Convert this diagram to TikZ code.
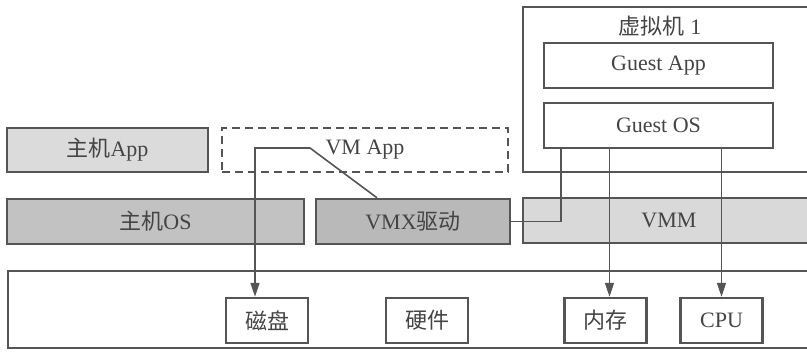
\documentclass[tikz,border=0pt]{standalone}
\usepackage{fontspec}
\setmainfont{Liberation Serif}
\newfontfamily\cjk{Noto Sans CJK SC}
\usetikzlibrary{arrows.meta}
\newcommand{\zh}[1]{{\cjk #1}}
\definecolor{edge}{HTML}{555555}
\definecolor{ink}{HTML}{444444}

\begin{document}
\begin{tikzpicture}[x=1pt,y=-1pt,
    font=\fontsize{22}{26}\selectfont,
    layer/.style={draw=edge,line width=2.4pt,rectangle,text=ink,minimum height=44pt},
    part/.style={draw=edge,line width=2.4pt,rectangle,text=ink,minimum width=82pt,minimum height=45pt},
    link/.style={draw=edge,line width=1.6pt},
    arr/.style={link,-{Triangle[length=14pt,width=9pt]}}]
  \useasboundingbox (0,0) rectangle (807,353);
  \clip (0,0) rectangle (807,353);
  
  %outer frames
  \draw[edge,line width=1.5pt] (523,7) rectangle (830,172);
  \node[text=ink] (vmlabel) at (660,26) {\zh{虚拟机} 1};
  \draw[edge,line width=1.5pt] (8,271) rectangle (830,348);
  
  %host side
  \node[layer,fill=gray!28,minimum width=201pt] (hostapp) at (107.5,150) {\zh{主机}App};
  \node[layer,dash pattern=on 8pt off 5pt,line width=1.5pt,minimum width=286pt] (vmapp) at (365,150) {VM App};
  \node[layer,fill=gray!48,minimum width=297pt,minimum height=45pt] (hostos) at (155.5,221.5) {\zh{主机}OS};
  \node[layer,fill=gray!55,minimum width=194pt,minimum height=45pt] (vmx) at (413,221.5) {VMX\zh{驱动}};
  
  %guest side
  \node[layer,fill=gray!30,minimum width=292pt,minimum height=45pt] (vmm) at (669,220.5) {VMM};
  \node[layer,minimum width=229pt,minimum height=45pt] (guestapp) at (658.5,65.5) {Guest App};
  \node[layer,minimum width=229pt,minimum height=45pt] (guestos) at (658.5,125.5) {Guest OS};
  
  %hardware
  \node[part] (disk) at (267,320.5) {\zh{磁盘}};
  \node[part] (hw) at (427,320.5) {\zh{硬件}};
  \node[part] (mem) at (605.5,320.5) {\zh{内存}};
  \node[part] (cpu) at (721.5,320.5) {CPU};
  
  %connections
  \coordinate (vmbend) at (310,148);
  \coordinate (memtop) at ([xshift=4pt]mem.north);
  \draw[arr] ([xshift=-36pt]vmx.north) -- (vmbend) -| ([xshift=-12pt]disk.north);
  \draw[link] ([xshift=18pt]guestos.south west) |- (vmx.east);
  \draw[arr] (guestos.south -| memtop) -- (memtop);
  \draw[arr] (guestos.south -| cpu.north) -- (cpu.north);
  
\end{tikzpicture}
\end{document}
